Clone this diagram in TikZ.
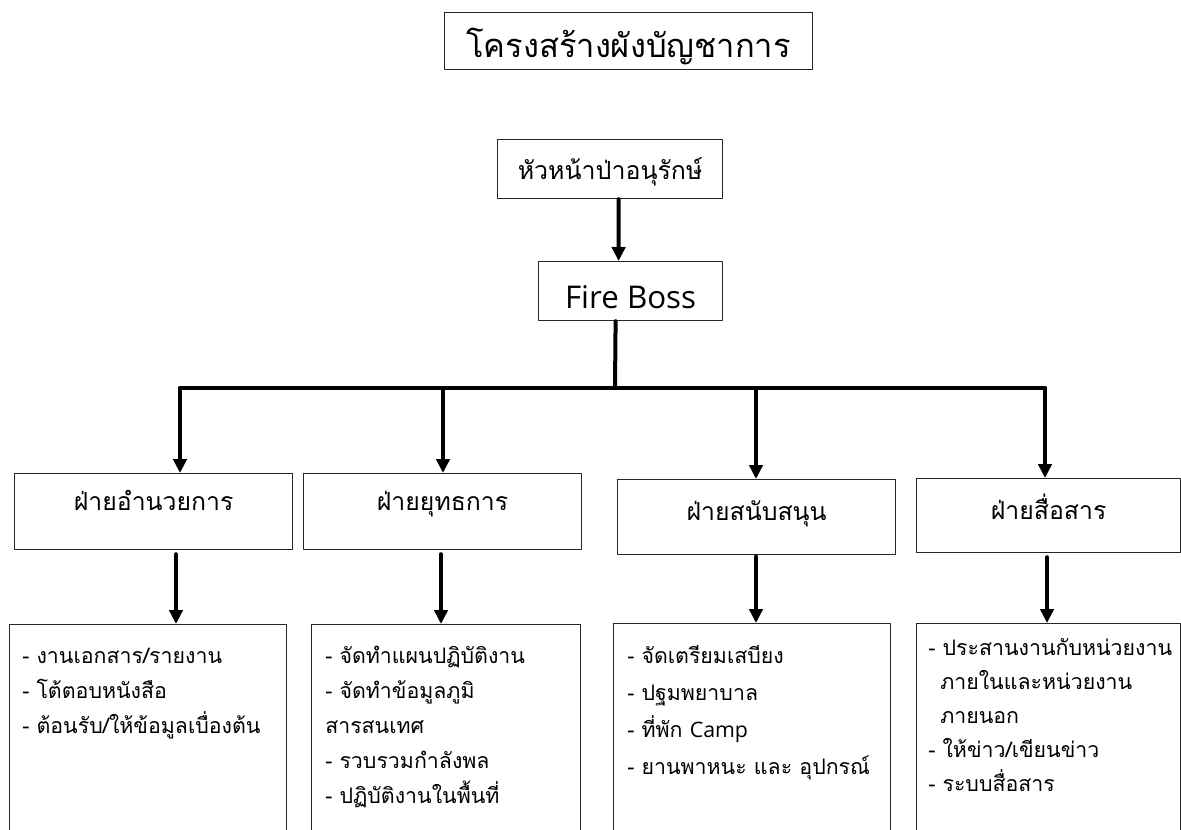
\documentclass[tikz,border=0pt]{standalone}
\usepackage{fontspec}
\setmainfont[Script=Thai]{Loma}
\newfontfamily\latinfont{Open Sans}
\usetikzlibrary{arrows.meta}

\begin{document}
\begin{tikzpicture}[x=0.75pt, y=-0.75pt, line join=round, line cap=round,
  >={Triangle[length=10.5pt,width=10pt]},
  box/.style={draw=black!85, line width=0.9pt, inner sep=0pt, anchor=north west},
  link/.style={->, line width=3pt},
  list/.style={anchor=base west, align=left, inner sep=0pt}]
% Kích thước trang
\useasboundingbox (0,0) rectangle (1181,830);
\clip (0,0) rectangle (1181,830);
% Tiêu đề
\node[box, minimum width=276pt, text height=33.75pt, text depth=9pt,
  font=\fontsize{24.5}{28}\selectfont] (title) at (444,12) {โครงสร้างผังบัญชาการ};
% Hai cấp trên cùng
\node[box, minimum width=168.75pt, text height=30pt, text depth=14.25pt,
  font=\fontsize{18.7}{20}\selectfont] (chief) at (497,139) {หัวหน้าป่าอนุรักษ์};
\node[box, minimum width=138pt, text height=35.25pt, text depth=9pt,
  font=\fontsize{23.5}{26}\latinfont] (boss) at (538,261) {Fire Boss};
% Bốn phòng ban
\node[box, minimum width=208.5pt, text height=27.75pt, text depth=29.25pt,
  font=\fontsize{18.6}{20}\selectfont] (dept1) at (14,473) {ฝ่ายอำนวยการ};
\node[box, minimum width=208.5pt, text height=27.75pt, text depth=29.25pt,
  font=\fontsize{18.6}{20}\selectfont] (dept2) at (303,473) {ฝ่ายยุทธการ};
\node[box, minimum width=208.5pt, text height=30.75pt, text depth=25.5pt,
  font=\fontsize{18.6}{20}\selectfont] (dept3) at (617,479) {ฝ่ายสนับสนุน};
\node[box, minimum width=198pt, text height=30.75pt, text depth=24.75pt,
  font=\fontsize{18.6}{20}\selectfont] (dept4) at (916,478) {ฝ่ายสื่อสาร};
% Khung nhiệm vụ (bị cắt ở đáy)
\node[box, minimum width=207.75pt, minimum height=180pt] (task1) at (9,624) {};
\node[box, minimum width=201.75pt, minimum height=180pt] (task2) at (311,624) {};
\node[box, minimum width=207.75pt, minimum height=180pt] (task3) at (613,623) {};
\node[box, minimum width=198pt, minimum height=180pt] (task4) at (916,623) {};
% Nội dung nhiệm vụ (neo ở dòng cuối)
\node[list, font=\fontsize{16}{26.25}\selectfont] (list1) at (22,733)
  {- งานเอกสาร/รายงาน\\- โต้ตอบหนังสือ\\- ต้อนรับ/ให้ข้อมูลเบื่องต้น};
\node[list, font=\fontsize{16}{26.25}\selectfont] (list2) at (325,803)
  {- จัดทำแผนปฏิบัติงาน\\- จัดทำข้อมูลภูมิ\\สารสนเทศ\\- รวบรวมกำลังพล\\- ปฏิบัติงานในพื้นที่};
\node[list, font=\fontsize{16}{27.75}\selectfont] (list3) at (627,774)
  {- จัดเตรียมเสบียง\\- ปฐมพยาบาล\\- ที่พัก {\latinfont Camp}\\- ยานพาหนะ และ อุปกรณ์};
\node[list, font=\fontsize{16}{25.5}\selectfont] (list4) at (928,791)
  {- ประสานงานกับหน่วยงาน\\\hspace*{9pt}ภายในและหน่วยงาน\\\hspace*{9pt}ภายนอก\\- ให้ข่าว/เขียนข่าว\\- ระบบสื่อสาร};
% Đường nối
\coordinate (bus) at (615,388);
\coordinate (b1) at (180,388);
\coordinate (b2) at (443,388);
\coordinate (b3) at (756,388);
\coordinate (b4) at (1045,388);
\coordinate (c1) at (176,600);
\coordinate (c2) at (441,600);
\coordinate (c3) at (756,600);
\coordinate (c4) at (1047,600);
\draw[link] ([xshift=6.4pt]chief.south) -- ([xshift=-9pt]boss.north);
\draw[line width=3pt] ([xshift=-11.25pt]boss.south) -- (bus);
\draw[line width=3pt] (b1) -- (b4);
\draw[link] (b1) -- (b1 |- dept1.north);
\draw[link] (b2) -- (b2 |- dept2.north);
\draw[link] (b3) -- (b3 |- dept3.north);
\draw[link] (b4) -- (b4 |- dept4.north);
\draw[link] ([yshift=-3pt]c1 |- dept1.south) -- (c1 |- task1.north);
\draw[link] ([yshift=-3pt]c2 |- dept2.south) -- (c2 |- task2.north);
\draw[link] ([yshift=-1pt]c3 |- dept3.south) -- (c3 |- task3.north);
\draw[link] ([yshift=-3pt]c4 |- dept4.south) -- (c4 |- task4.north);
\end{tikzpicture}
\end{document}
